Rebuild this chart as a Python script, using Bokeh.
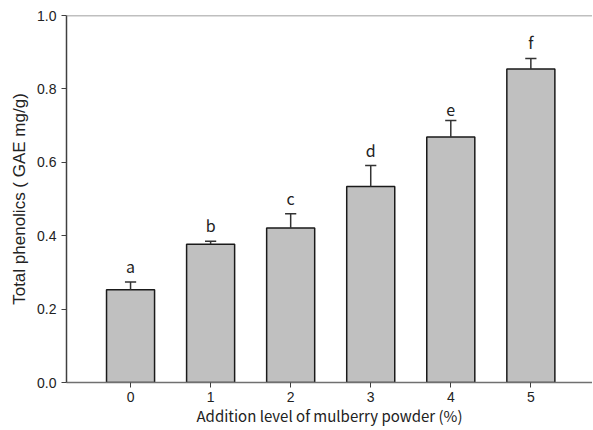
from bokeh.plotting import figure
from bokeh.models import Range1d, FixedTicker, Span, ColumnDataSource, LabelSet, NumeralTickFormatter
from bokeh.core.properties import value
from bokeh.embed import file_html
from bokeh.resources import INLINE

levels = [0, 1, 2, 3, 4, 5]
tick_labels = ["0", "1", "2", "3", "4", "5"]
means = [0.253, 0.377, 0.421, 0.534, 0.669, 0.854]
errors = [0.021, 0.008, 0.039, 0.057, 0.045, 0.029]
letters = ["a", "b", "c", "d", "e", "f"]

y_ticks = [0.0, 0.2, 0.4, 0.6, 0.8, 1.0]

upper = [m + e for m, e in zip(means, errors)]
cap_half = 0.07
src = ColumnDataSource(dict(
    x=levels, top=means, upper=upper, letter=letters,
    x0=[x - cap_half for x in levels], x1=[x + cap_half for x in levels],
))

p = figure(width=592, height=428, output_backend="svg", toolbar_location=None,
           x_range=Range1d(-0.8, 5.77), y_range=Range1d(0, 1.0),
           min_border_left=66, min_border_right=0, min_border_top=15, min_border_bottom=46)
p.outline_line_color = None
p.xgrid.grid_line_color = None
p.ygrid.grid_line_color = None

p.vbar(x="x", top="top", width=0.6, source=src, fill_color="#c0c0c0",
       line_color="#1a1a1a", line_width=1.5)
p.segment(x0="x", y0="top", x1="x", y1="upper", source=src, line_color="#333333", line_width=1.5)
p.segment(x0="x0", y0="upper", x1="x1", y1="upper", source=src, line_color="#333333", line_width=1.5)

labels = LabelSet(x="x", y="upper", text="letter", source=src, y_offset=4,
                  text_align="center", text_baseline="bottom",
                  text_font=value("Noto Sans CJK KR"), text_font_size="16px", text_color="#222222")
p.add_layout(labels)

p.add_layout(Span(location=1.0, dimension="width", line_color="#808080", line_width=1.5))

p.xaxis.ticker = FixedTicker(ticks=levels)
p.xaxis.major_label_overrides = {l: t for l, t in zip(levels, tick_labels)}
p.yaxis.ticker = FixedTicker(ticks=y_ticks)
p.yaxis.formatter = NumeralTickFormatter(format="0.0")

for ax in (p.xaxis, p.yaxis):
    ax.minor_tick_line_color = None
    ax.major_tick_in = 0
    ax.major_tick_out = 5
    ax.major_label_text_font = "Liberation Sans"
    ax.major_label_text_font_size = "14px"
    ax.major_label_text_color = "#222222"
    ax.axis_label_text_font_style = "normal"
    ax.axis_label_text_color = "#222222"

p.yaxis.axis_line_color = "#404040"
p.yaxis.axis_line_width = 1.5
p.yaxis.major_tick_line_color = "#404040"
p.yaxis.axis_label = "Total phenolics ( GAE mg/g)"
p.yaxis.axis_label_text_font = "Liberation Sans"
p.yaxis.axis_label_text_font_size = "17px"
p.yaxis.major_label_standoff = 5

p.xaxis.axis_line_color = "#707070"
p.xaxis.axis_line_width = 1.5
p.xaxis.major_tick_line_color = "#404040"
p.xaxis.axis_label = "Addition level of mulberry powder (%)"
p.xaxis.axis_label_text_font = "Noto Sans CJK KR"
p.xaxis.axis_label_text_font_size = "15px"
p.xaxis.axis_label_standoff = 0
p.xaxis.major_label_standoff = 4

open("out.html", "w").write(file_html(p, INLINE))
